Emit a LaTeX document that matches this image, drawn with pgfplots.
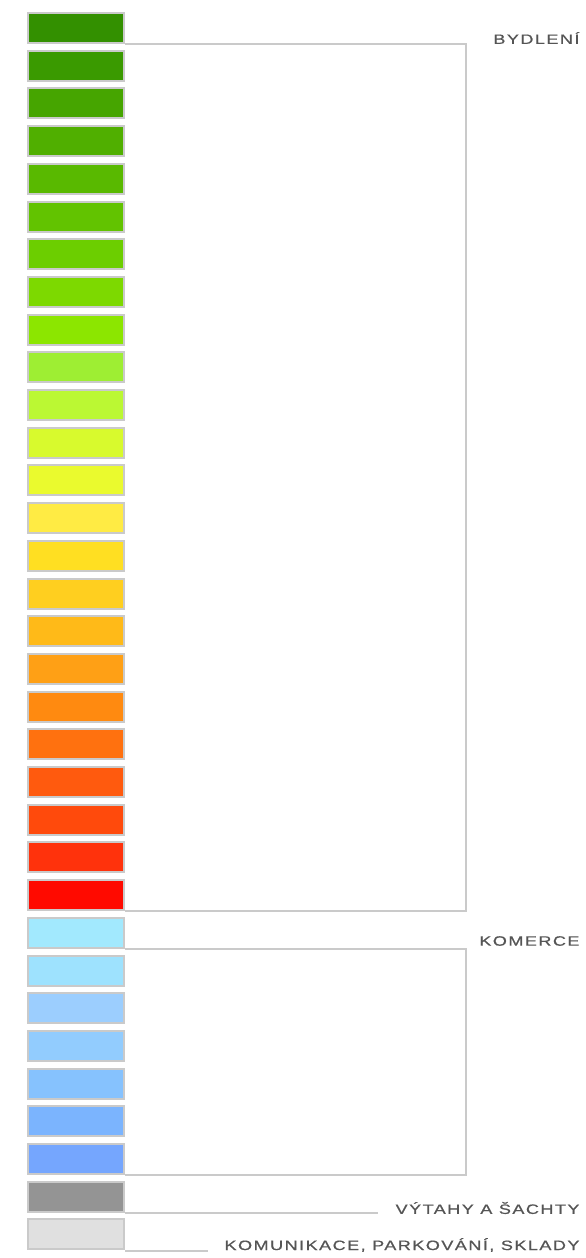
\documentclass[border=0pt]{standalone}
\usepackage{pgfplots}
\pgfplotsset{compat=1.18}
\usepackage{fontspec}
\newfontfamily\labelfont[LetterSpace=8,FakeBold=0.6]{Liberation Sans}

% swatch colours, top to bottom
\definecolor{c01}{HTML}{339000}
\definecolor{c02}{HTML}{3A9A00}
\definecolor{c03}{HTML}{46A500}
\definecolor{c04}{HTML}{50AF00}
\definecolor{c05}{HTML}{59B900}
\definecolor{c06}{HTML}{62C300}
\definecolor{c07}{HTML}{6CCE00}
\definecolor{c08}{HTML}{7DD900}
\definecolor{c09}{HTML}{8CE600}
\definecolor{c10}{HTML}{9EEE33}
\definecolor{c11}{HTML}{BBF833}
\definecolor{c12}{HTML}{D8FA2D}
\definecolor{c13}{HTML}{EAFA2E}
\definecolor{c14}{HTML}{FFEB44}
\definecolor{c15}{HTML}{FFDF22}
\definecolor{c16}{HTML}{FFCF1F}
\definecolor{c17}{HTML}{FFBA18}
\definecolor{c18}{HTML}{FFA015}
\definecolor{c19}{HTML}{FF8A10}
\definecolor{c20}{HTML}{FF710F}
\definecolor{c21}{HTML}{FF5A0E}
\definecolor{c22}{HTML}{FF4A0C}
\definecolor{c23}{HTML}{FF320C}
\definecolor{c24}{HTML}{FF0A00}
\definecolor{c25}{HTML}{A2E9FE}
\definecolor{c26}{HTML}{9EE2FE}
\definecolor{c27}{HTML}{9CCEFE}
\definecolor{c28}{HTML}{92CCFE}
\definecolor{c29}{HTML}{86C2FE}
\definecolor{c30}{HTML}{7BB4FE}
\definecolor{c31}{HTML}{75A6FE}
\definecolor{c32}{HTML}{949494}
\definecolor{c33}{HTML}{E0E0E0}
\definecolor{frame}{HTML}{CACACA}
\definecolor{labelgray}{HTML}{555555}

\begin{document}
\begin{tikzpicture}[
  cell/.style={xbar, bar width=30, bar shift=0pt, draw=frame, line width=1pt, fill=#1},
  bracket/.style={frame, line width=0.75pt, mark=none},
  lbl/.style={anchor=east, inner sep=0pt, xscale=1.33, text=labelgray, font=\labelfont\fontsize{6.8}{8}\selectfont},
]
\begin{axis}[
  scale only axis, width=292.5pt, height=629pt,
  xmin=-28, xmax=557, ymin=0, ymax=1258, y dir=reverse,
  axis line style={draw=none}, xtick=\empty, ytick=\empty,
  clip=false,
]
\addplot[cell=c01] coordinates {(96,28)};
\addplot[cell=c02] coordinates {(96,65.7)};
\addplot[cell=c03] coordinates {(96,103.4)};
\addplot[cell=c04] coordinates {(96,141.1)};
\addplot[cell=c05] coordinates {(96,178.8)};
\addplot[cell=c06] coordinates {(96,216.5)};
\addplot[cell=c07] coordinates {(96,254.2)};
\addplot[cell=c08] coordinates {(96,291.9)};
\addplot[cell=c09] coordinates {(96,329.6)};
\addplot[cell=c10] coordinates {(96,367.3)};
\addplot[cell=c11] coordinates {(96,405)};
\addplot[cell=c12] coordinates {(96,442.7)};
\addplot[cell=c13] coordinates {(96,480.4)};
\addplot[cell=c14] coordinates {(96,518.1)};
\addplot[cell=c15] coordinates {(96,555.8)};
\addplot[cell=c16] coordinates {(96,593.5)};
\addplot[cell=c17] coordinates {(96,631.2)};
\addplot[cell=c18] coordinates {(96,668.9)};
\addplot[cell=c19] coordinates {(96,706.6)};
\addplot[cell=c20] coordinates {(96,744.3)};
\addplot[cell=c21] coordinates {(96,782)};
\addplot[cell=c22] coordinates {(96,819.7)};
\addplot[cell=c23] coordinates {(96,857.4)};
\addplot[cell=c24] coordinates {(96,895.1)};
\addplot[cell=c25] coordinates {(96,932.8)};
\addplot[cell=c26] coordinates {(96,970.5)};
\addplot[cell=c27] coordinates {(96,1008.2)};
\addplot[cell=c28] coordinates {(96,1045.9)};
\addplot[cell=c29] coordinates {(96,1083.6)};
\addplot[cell=c30] coordinates {(96,1121.3)};
\addplot[cell=c31] coordinates {(96,1159)};
\addplot[cell=c32] coordinates {(96,1196.7)};
\addplot[cell=c33] coordinates {(96,1234.4)};

% group brackets
\addplot[bracket] coordinates {(97,44) (438,44) (438,911) (97,911)};
\addplot[bracket] coordinates {(97,949) (438,949) (438,1175) (97,1175)};
\addplot[bracket] coordinates {(97,1213) (350,1213)};
\addplot[bracket] coordinates {(97,1251) (180,1251)};

\node[lbl] at (axis cs:552,38) {BYDLENÍ};
\node[lbl] at (axis cs:552,941) {KOMERCE};
\node[lbl] at (axis cs:552,1208) {VÝTAHY A ŠACHTY};
\node[lbl] at (axis cs:552,1245) {KOMUNIKACE, PARKOVÁNÍ, SKLADY};
\end{axis}
\end{tikzpicture}
\end{document}
